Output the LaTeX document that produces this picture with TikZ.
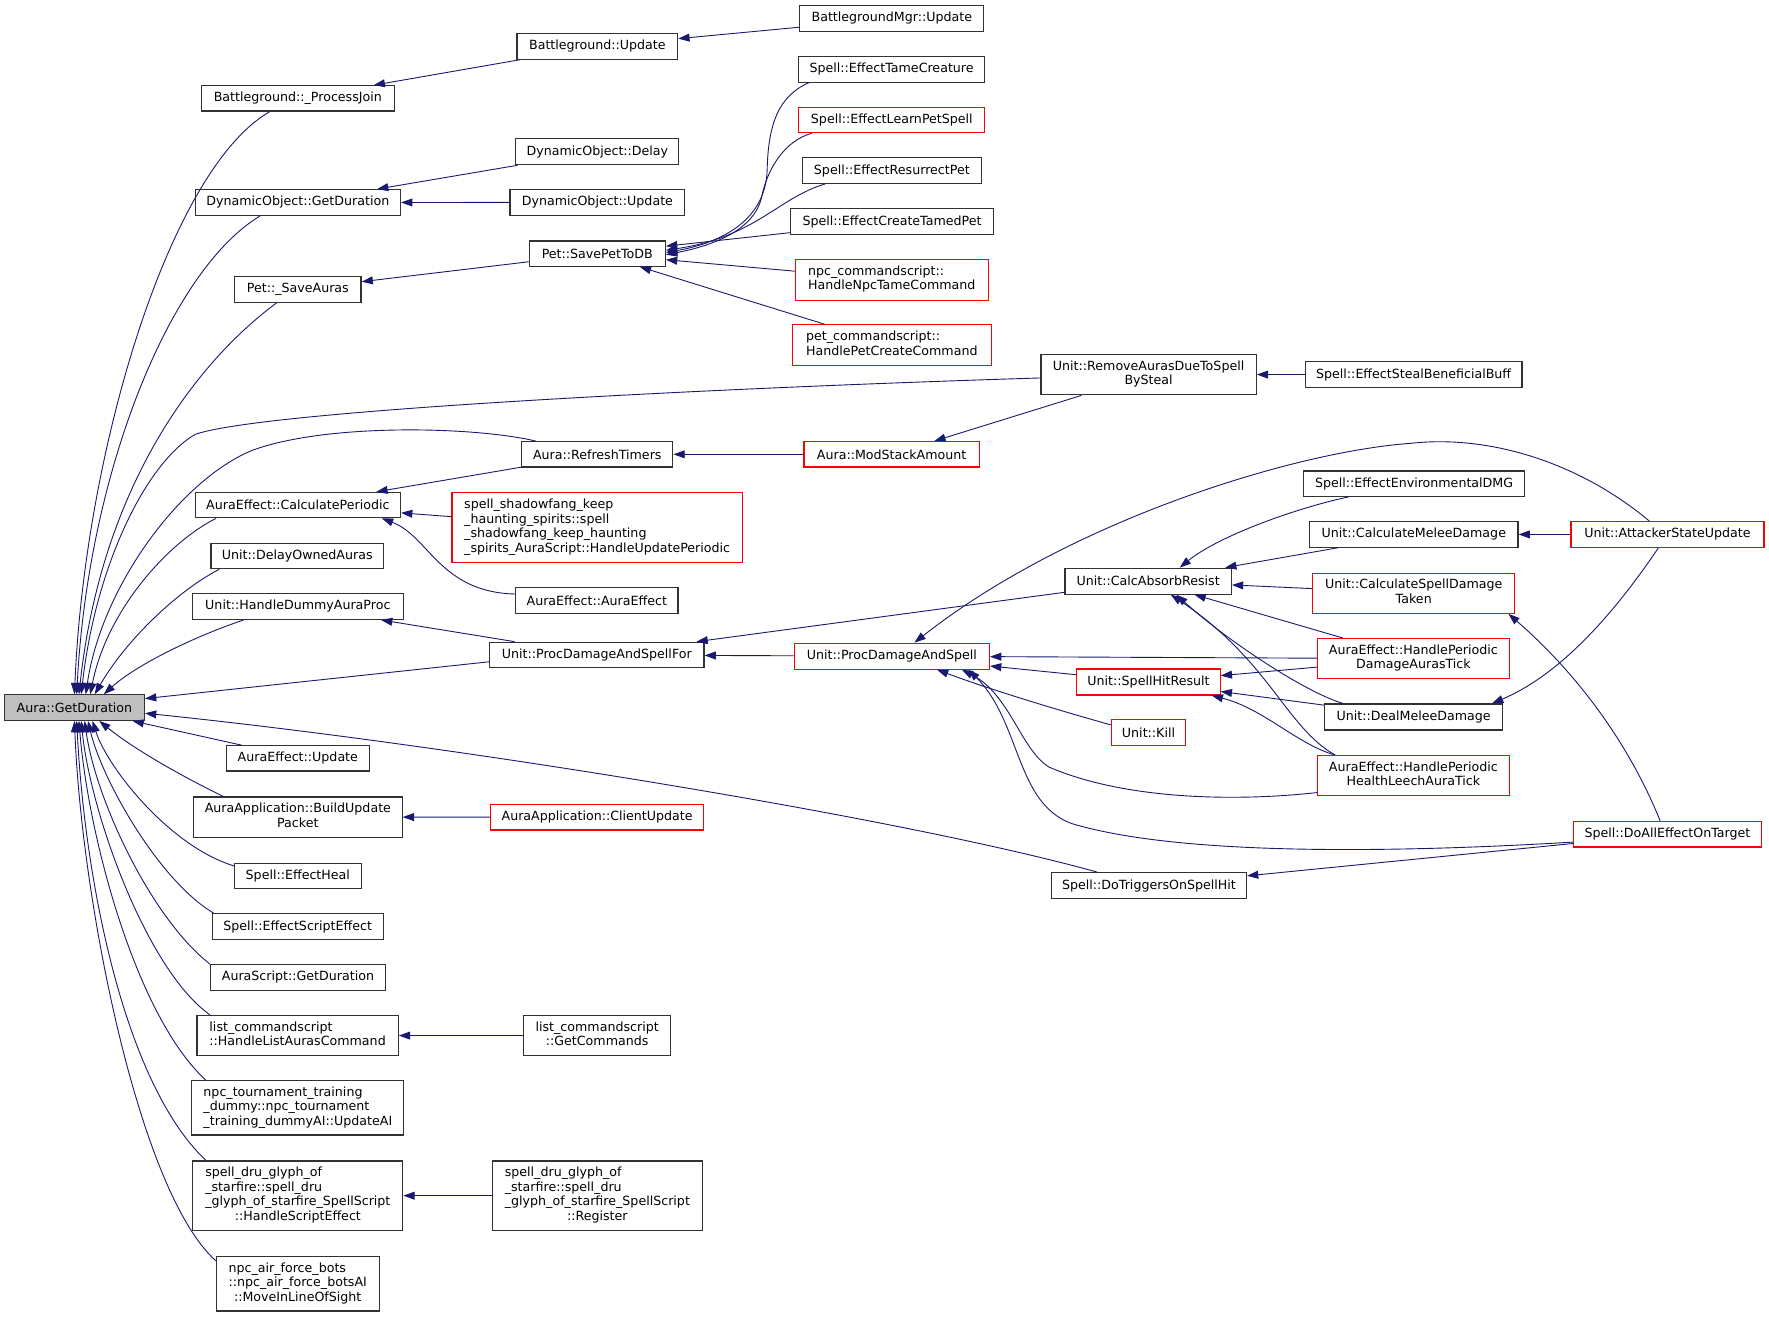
\documentclass[tikz,border=0pt]{standalone}
\usepackage{fontspec}
\setmainfont{DejaVu Sans}
\usetikzlibrary{arrows.meta}
\definecolor{mblue}{RGB}{25,25,112}
\definecolor{gfill}{RGB}{191,191,191}
\definecolor{nbord}{RGB}{50,50,50}
\newcommand{\tlB}[2]{\begin{tabular}{@{}l@{}}#1\\\multicolumn{1}{@{}c@{}}{#2}\end{tabular}}
\newcommand{\tlC}[3]{\begin{tabular}{@{}l@{}}#1\\#2\\\multicolumn{1}{@{}c@{}}{#3}\end{tabular}}
\newcommand{\tlD}[4]{\begin{tabular}{@{}l@{}}#1\\#2\\#3\\\multicolumn{1}{@{}c@{}}{#4}\end{tabular}}
\begin{document}
\begin{tikzpicture}[x=1pt,y=-1pt,
  nb/.style={draw=nbord, line width=1pt, fill=white, inner sep=0pt, text=black,
    font=\fontsize{11.2}{12.8}\selectfont},
  rb/.style={nb, draw=red},
  sz/.style 2 args={minimum width=#1, minimum height=#2},
  ed/.style={draw=mblue, line width=0.8pt, -{Triangle[length=10pt,width=7pt]}}]
\fill[white] (0,0) rectangle (1568,1167);
\useasboundingbox (0,0) rectangle (1568,1167);
% column 1
\node[nb, fill=gfill, sz={124}{22.6}] (A) at (66,627.2) {Aura::GetDuration};
% column 2
\node[nb, sz={170.6}{22.4}] (B1) at (264,87.2) {Battleground::\_ProcessJoin};
\node[nb, sz={182}{22.8}] (DOGD) at (264,179.5) {DynamicObject::GetDuration};
\node[nb, sz={112}{22.7}] (PSA) at (264,256.4) {Pet::\_SaveAuras};
\node[nb, sz={182}{22.6}] (AECP) at (264,447.7) {AuraEffect::CalculatePeriodic};
\node[nb, sz={153}{22.4}] (UDOA) at (263.5,492.8) {Unit::DelayOwnedAuras};
\node[nb, sz={187}{23}] (UHDAP) at (264,537.5) {Unit::HandleDummyAuraProc};
\node[nb, sz={126.6}{22.4}] (AEU) at (264,672.2) {AuraEffect::Update};
\node[nb, sz={185}{35.5}] (AABU) at (264,724.2) {\tlB{AuraApplication::BuildUpdate}{Packet}};
\node[nb, sz={112.4}{22.4}] (SEH) at (264,776.2) {Spell::EffectHeal};
\node[nb, sz={151.5}{22.6}] (SESE) at (263.8,821.3) {Spell::EffectScriptEffect};
\node[nb, sz={155}{22.6}] (ASGD) at (264.1,866.3) {AuraScript::GetDuration};
\node[nb, sz={178.4}{35.8}] (LCH) at (263.8,917.9) {\tlB{list\_commandscript}{::HandleListAurasCommand}};
\node[nb, sz={188}{48}] (NTT) at (264,982) {\tlC{npc\_tournament\_training}{\_dummy::npc\_tournament}{\_training\_dummyAI::UpdateAI}};
\node[nb, sz={186}{61.5}] (SDGH) at (264,1059.8) {\tlD{spell\_dru\_glyph\_of}{\_starfire::spell\_dru}{\_glyph\_of\_starfire\_SpellScript}{::HandleScriptEffect}};
\node[nb, sz={144.3}{48}] (NAF) at (263.9,1138) {\tlC{npc\_air\_force\_bots}{::npc\_air\_force\_botsAI}{::MoveInLineOfSight}};
% column 3
\node[nb, sz={142.4}{23}] (BU) at (529.5,41) {Battleground::Update};
\node[nb, sz={144.4}{23}] (DOD) at (529.5,134.5) {DynamicObject::Delay};
\node[nb, sz={155}{22.8}] (DOU) at (529.5,179.4) {DynamicObject::Update};
\node[nb, sz={120.8}{22.4}] (PSPD) at (529.4,224.8) {Pet::SavePetToDB};
\node[nb, sz={134}{22.5}] (ART) at (529.4,402.7) {Aura::RefreshTimers};
\node[rb, sz={257.4}{62}] (SSK) at (529.3,467.7) {\tlD{spell\_shadowfang\_keep}{\_haunting\_spirits::spell}{\_shadowfang\_keep\_haunting}{\_spirits\_AuraScript::HandleUpdatePeriodic}};
\node[nb, sz={144}{23}] (AEAE) at (529,532.5) {AuraEffect::AuraEffect};
\node[nb, sz={190}{22.7}] (UPDSF) at (529,580.6) {Unit::ProcDamageAndSpellFor};
\node[rb, sz={189}{22.7}] (AACU) at (529.3,724.3) {AuraApplication::ClientUpdate};
\node[nb, sz={130.6}{35.8}] (LCGC) at (529.3,917.9) {\tlB{list\_commandscript}{::GetCommands}};
\node[nb, sz={185.7}{61.5}] (SDGR) at (529.5,1059.8) {\tlD{spell\_dru\_glyph\_of}{\_starfire::spell\_dru}{\_glyph\_of\_starfire\_SpellScript}{::Register}};
% column 4
\node[nb, sz={163}{22.8}] (BGMU) at (790.5,16.4) {BattlegroundMgr::Update};
\node[nb, sz={165.4}{22.7}] (SETC) at (790.3,61.4) {Spell::EffectTameCreature};
\node[rb, sz={165}{22.6}] (SELP) at (790.5,106.3) {Spell::EffectLearnPetSpell};
\node[nb, sz={159}{22.7}] (SERP) at (790.5,151.2) {Spell::EffectResurrectPet};
\node[nb, sz={179.8}{22.7}] (SECT) at (790.7,196.4) {Spell::EffectCreateTamedPet};
\node[rb, sz={171.2}{36}] (NPCT) at (790.4,248) {\tlB{npc\_commandscript::}{HandleNpcTameCommand}};
\node[rb, sz={176}{35.8}] (PETC) at (790.5,305.9) {\tlB{pet\_commandscript::}{HandlePetCreateCommand}};
\node[rb, sz={155.3}{22.5}] (AMSA) at (790.3,402.7) {Aura::ModStackAmount};
\node[rb, sz={173}{23}] (UPDS) at (790.5,581.6) {Unit::ProcDamageAndSpell};
% column 4b
\node[nb, sz={190.8}{36}] (URAD) at (1018.1,332) {\tlB{Unit::RemoveAurasDueToSpell}{BySteal}};
\node[nb, sz={147.4}{23}] (UCAR) at (1017.7,515.1) {Unit::CalcAbsorbResist};
\node[rb, sz={127}{23}] (USHR) at (1018,604.5) {Unit::SpellHitResult};
\node[rb, sz={66}{23}] (UK) at (1018,649.5) {Unit::Kill};
\node[nb, sz={172.8}{22.8}] (SDTS) at (1018.4,784.9) {Spell::DoTriggersOnSpellHit};
% column 5
\node[nb, sz={192}{22.7}] (SESB) at (1253,332) {Spell::EffectStealBeneficialBuff};
\node[nb, sz={195.3}{22.5}] (SEED) at (1253.4,428.7) {Spell::EffectEnvironmentalDMG};
\node[nb, sz={184.7}{22.6}] (UCMD) at (1253.2,473.7) {Unit::CalculateMeleeDamage};
\node[rb, sz={178.8}{35.6}] (UCSD) at (1253.1,525.8) {\tlB{Unit::CalculateSpellDamage}{Taken}};
\node[rb, sz={169.6}{35.6}] (AEDT) at (1252.8,583.8) {\tlB{AuraEffect::HandlePeriodic}{DamageAurasTick}};
\node[nb, sz={158}{23}] (UDMD) at (1253,635.5) {Unit::DealMeleeDamage};
\node[rb, sz={169.6}{35.5}] (AEHL) at (1252.8,687.5) {\tlB{AuraEffect::HandlePeriodic}{HealthLeechAuraTick}};
% column 6
\node[rb, sz={171}{22.6}] (UASU) at (1478,473.7) {Unit::AttackerStateUpdate};
\node[rb, sz={166}{22.8}] (SDAE) at (1478,739.4) {Spell::DoAllEffectOnTarget};
% edges into Aura::GetDuration
\draw[ed] ([xshift=61]B1.south west) .. controls (150,150) and (75,400) .. (A.north);
\draw[ed] ([xshift=58]DOGD.south west) .. controls (150,240) and (78,420) .. ([xshift=2]A.north);
\draw[ed] ([xshift=38]PSA.south west) .. controls (175,320) and (90,430) .. ([xshift=4]A.north);
\draw[ed] ([yshift=-3]URAD.west) .. controls (600,345) and (230,365) .. (173,385) .. controls (130,410) and (85,500) .. ([xshift=6]A.north);
\draw[ed] ([xshift=13]ART.north west) .. controls (420,378) and (290,375) .. (224,399) .. controls (160,425) and (90,520) .. ([xshift=10]A.north);
\draw[ed] ([xshift=19]AECP.south west) .. controls (150,480) and (95,540) .. ([xshift=14]A.north);
\draw[ed] ([xshift=8]UDOA.south west) .. controls (155,525) and (110,570) .. ([xshift=18]A.north);
\draw[ed] ([xshift=46]UHDAP.south west) .. controls (170,565) and (120,590) .. ([xshift=26]A.north);
\draw[ed] ([yshift=-6]UPDSF.west) -- ([yshift=8]A.east);
\draw[ed] ([xshift=41]SDTS.north west) .. controls (800,725) and (400,660) .. ([yshift=-5]A.east);
\draw[ed] ([xshift=14]AEU.north west) -- ([xshift=-11]A.south east);
\draw[ed] ([xshift=27]AABU.north west) .. controls (165,690) and (120,665) .. ([xshift=22]A.south);
\draw[ed] ([yshift=-3]SEH.north west) .. controls (150,750) and (95,680) .. ([xshift=16]A.south);
\draw[ed] ([xshift=2]SESE.north west) .. controls (140,780) and (90,690) .. ([xshift=12]A.south);
\draw[ed] (ASGD.north west) .. controls (135,815) and (85,710) .. ([xshift=9]A.south);
\draw[ed] ([xshift=12]LCH.north west) .. controls (130,860) and (80,720) .. ([xshift=6]A.south);
\draw[ed] ([xshift=13]NTT.north west) .. controls (120,900) and (78,740) .. ([xshift=4]A.south);
\draw[ed] ([xshift=12]SDGH.north west) .. controls (110,960) and (75,780) .. ([xshift=2]A.south);
\draw[ed] ([yshift=-4]NAF.north west) .. controls (122,1055) and (72,795) .. (A.south);
% other edges
\draw[ed] (BU) -- (B1);
\draw[ed] (BGMU) -- (BU);
\draw[ed] (DOD) -- (DOGD);
\draw[ed] (DOU) -- (DOGD);
\draw[ed] (PSPD) -- (PSA);
\draw[ed] ([xshift=10]SETC.south west) .. controls (690,85) and (681,110) .. (680,150) .. controls (679,195) and (640,215) .. ([yshift=1]PSPD.east);
\draw[ed] ([xshift=12]SELP.south west) .. controls (695,125) and (680,150) .. (675,175) .. controls (668,205) and (630,218) .. ([yshift=-1]PSPD.east);
\draw[ed] ([xshift=21]SERP.south west) .. controls (690,175) and (670,210) .. ([yshift=3]PSPD.east);
\draw[ed] (SECT) -- (PSPD);
\draw[ed] (NPCT) -- (PSPD);
\draw[ed] (PETC) -- (PSPD);
\draw[ed] (AMSA) -- (ART);
\draw[ed] (URAD) -- (AMSA);
\draw[ed] (SESB) -- (URAD);
\draw[ed] (ART) -- (AECP);
\draw[ed] (SSK) -- (AECP);
\draw[ed] ([yshift=6]AEAE.west) .. controls (390,525) and (380,475) .. ([xshift=-17]AECP.south east);
\draw[ed] (UPDSF) -- (UHDAP);
\draw[ed] (UCAR) -- (UPDSF);
\draw[ed] (UPDS) -- (UPDSF);
\draw[ed] ([xshift=70]UASU.north west) .. controls (1400,410) and (1320,385) .. (1250,393) .. controls (1150,400) and (950,460) .. ([xshift=20]UPDS.north);
\draw[ed] (AEDT) -- (UPDS);
\draw[ed] (USHR) -- (UPDS);
\draw[ed] ([yshift=-5]UK.north west) .. controls (940,630) and (880,612) .. ([xshift=40]UPDS.south);
\draw[ed] ([yshift=-15]AEHL.west) .. controls (1100,710) and (1000,710) .. (930,680) .. controls (905,665) and (895,615) .. ([xshift=62]UPDS.south);
\draw[ed] ([yshift=-7]SDAE.west) .. controls (1250,755) and (1050,760) .. (950,730) .. controls (900,712) and (905,640) .. ([xshift=68]UPDS.south);
\draw[ed] ([xshift=40]SEED.south west) .. controls (1150,450) and (1080,475) .. ([xshift=28]UCAR.north);
\draw[ed] (UCMD) -- (UCAR);
\draw[ed] (UCSD) -- (UCAR);
\draw[ed] (AEDT) -- (UCAR);
\draw[ed] ([xshift=17]UDMD.north west) .. controls (1160,615) and (1090,570) .. ([xshift=25]UCAR.south);
\draw[ed] ([xshift=16]AEHL.north west) .. controls (1140,645) and (1125,585) .. ([xshift=20]UCAR.south);
\draw[ed] (AEDT) -- (USHR);
\draw[ed] (UDMD) -- (USHR);
\draw[ed] ([xshift=16]AEHL.north west) .. controls (1150,660) and (1120,628) .. ([xshift=-8]USHR.south east);
\draw[ed] (UASU) -- (UCMD);
\draw[ed] ([xshift=78]UASU.south west) .. controls (1440,530) and (1390,595) .. ([xshift=-10]UDMD.north east);
\draw[ed] ([xshift=77]SDAE.north west) .. controls (1440,650) and (1390,590) .. ([xshift=-6]UCSD.south east);
\draw[ed] (SDAE) -- (SDTS);
\draw[ed] (AACU) -- (AABU);
\draw[ed] (LCGC) -- (LCH);
\draw[ed] (SDGR) -- (SDGH);
\end{tikzpicture}
\end{document}
